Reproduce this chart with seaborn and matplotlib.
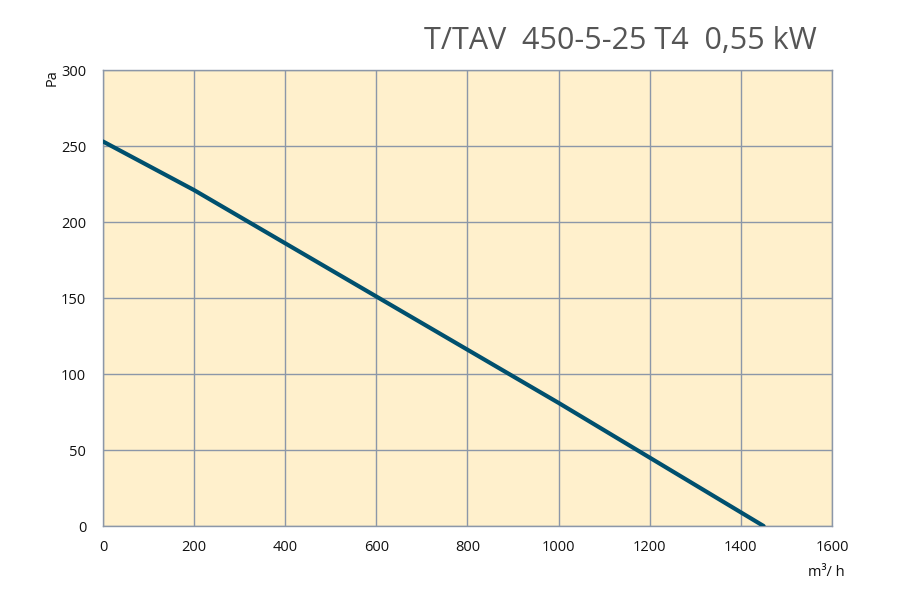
import seaborn as sns
import matplotlib.pyplot as plt
import pandas as pd

# curve
flow = [0, 200, 400, 600, 800, 1000, 1200, 1450]
pressure = [253, 221, 186, 151, 116, 81, 45, 0]
x_ticks = [0, 200, 400, 600, 800, 1000, 1200, 1400, 1600]
y_ticks = [0, 50, 100, 150, 200, 250, 300]
title = "T/TAV  450-5-25 T4  0,55 kW"

df = pd.DataFrame({"flow": flow, "pressure": pressure})

sns.set_theme(style="white")
plt.rcParams["font.family"] = ["Open Sans", "DejaVu Sans"]

fig = plt.figure(figsize=(9, 6), dpi=100)
ax = fig.add_axes([0.1144, 0.1233, 0.81, 0.76])
ax.set_facecolor("#fff0cc")

sns.lineplot(data=df, x="flow", y="pressure", ax=ax, color="#00506e",
             linewidth=3, zorder=3)

ax.set_xlim(0, 1600)
ax.set_ylim(0, 300)
ax.set_xticks(x_ticks)
ax.set_yticks(y_ticks)
ax.grid(True, color="#8c97a8", linewidth=1)
for s in ax.spines.values():
    s.set_color("#8c97a8")
    s.set_linewidth(1)
ax.tick_params(axis="both", length=0, labelsize=10.5, colors="#111111")
ax.tick_params(axis="x", pad=10)
ax.tick_params(axis="y", pad=12)
ax.set_xlabel("")
ax.set_ylabel("")

fig.text(0.908, 0.918, title, ha="right", va="baseline", fontsize=22,
         color="#555555")
fig.text(0.058, 0.885, "Pa", rotation=90, ha="center", va="top",
         fontsize=10.5, color="#111111")
fig.text(0.938, 0.04, "m³/ h", ha="right", va="baseline", fontsize=10.5,
         color="#111111")

fig.savefig("out.png", dpi=100)
